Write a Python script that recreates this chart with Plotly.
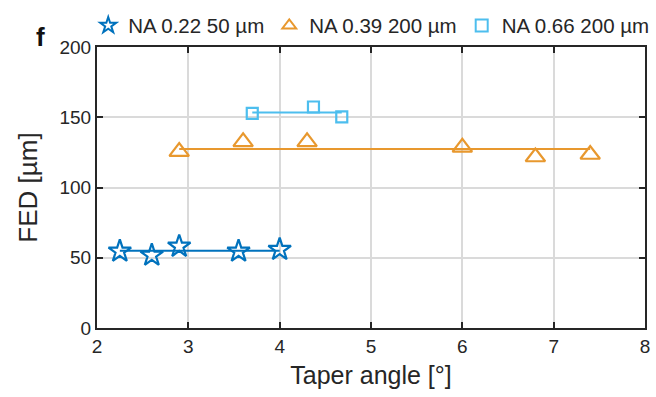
import plotly.graph_objects as go
import numpy as np

# Data
star_x = [2.25, 2.60, 2.90, 3.55, 4.00]
star_y = [54.6, 51.8, 58.1, 54.6, 55.8]

tri_x = [2.90, 3.60, 4.30, 6.00, 6.80, 7.40]
tri_y = [125.5, 132.5, 132.5, 128.6, 121.7, 123.5]

sq_x = [3.70, 4.37, 4.68]
sq_y = [152.7, 157.3, 150.3]

names = ["NA 0.22 50 µm", "NA 0.39 200 µm", "NA 0.66 200 µm"]
colors = ["#0072BD", "#E8982E", "#4DBEEE"]
symbols = ["star-open", "triangle-up-open", "square-open"]
sizes = [17, 17, 11]

x_ticks = [2, 3, 4, 5, 6, 7, 8]
y_ticks = [0, 50, 100, 150, 200]

FONT = "Liberation Sans, Arial, sans-serif"
INK = "#262626"

fig = go.Figure()
series = [(star_x, star_y), (tri_x, tri_y), (sq_x, sq_y)]
for (xs, ys), name, c, sym, sz in zip(series, names, colors, symbols, sizes):
    m = float(np.mean(ys))
    fig.add_trace(go.Scatter(
        x=[min(xs), max(xs)], y=[m, m], mode="lines",
        line=dict(color=c, width=2), showlegend=False, hoverinfo="skip"))
    fig.add_trace(go.Scatter(
        x=xs, y=ys, mode="markers", name=name,
        marker=dict(symbol=sym, size=sz, color=c, line=dict(width=2.2, color=c))))

axis_common = dict(
    showgrid=True, gridcolor="#DADADA", gridwidth=1.6,
    showline=True, linecolor=INK, linewidth=2,
    mirror="ticks", ticks="inside", ticklen=6, tickwidth=2, tickcolor=INK,
    zeroline=False,
    tickfont=dict(family=FONT, size=19, color=INK),
)

fig.update_xaxes(range=[2, 8], tickvals=x_ticks, ticktext=[str(v) for v in x_ticks],
                 title=dict(text="Taper angle [°]", standoff=11,
                            font=dict(family=FONT, size=25, color=INK)),
                 **axis_common)
fig.update_yaxes(range=[0, 200], tickvals=y_ticks, ticktext=[str(v) for v in y_ticks],
                 title=dict(text="FED [µm]", standoff=14,
                            font=dict(family=FONT, size=26, color=INK)),
                 **axis_common)

fig.add_annotation(text="<b>f</b>", xref="paper", yref="paper", x=-0.103, y=1.035,
                   xanchor="center", yanchor="middle", showarrow=False,
                   font=dict(family=FONT, size=26, color="#111111"))

fig.update_layout(
    width=656, height=397,
    margin=dict(l=97, r=6, t=43, b=69),
    paper_bgcolor="white", plot_bgcolor="white",
    legend=dict(orientation="h", x=-0.016, y=1.005, xanchor="left", yanchor="bottom",
                itemwidth=30, tracegroupgap=0, itemsizing="constant",
                font=dict(family=FONT, size=20.5, color=INK),
                bgcolor="rgba(0,0,0,0)"),
)

fig.write_html("out.html")
